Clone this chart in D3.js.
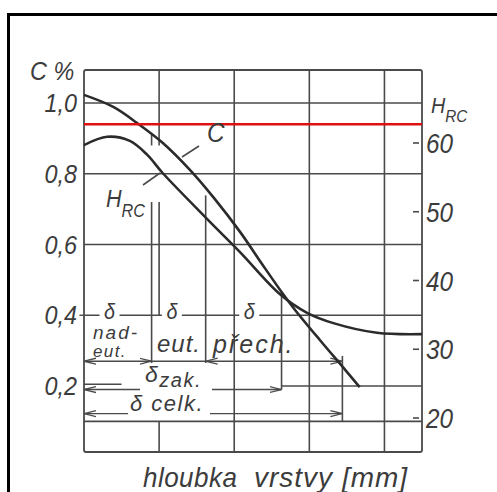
<!DOCTYPE html>
<head>
  <meta charset="utf-8" />
  <script src="https://cdn.jsdelivr.net/npm/d3@7/dist/d3.min.js"></script>
  <style>
    body { margin: 0; background: #fff; }
    text {
      font-family: "Liberation Sans", Arimo, "DejaVu Sans", sans-serif;
      font-style: italic;
      fill: #3c3c3c;
    }
  </style>
</head>
<body>
  <svg class="chart" width="497" height="492"></svg>
  <script>
    // carbon profile (depth in grid units, C %)
    const cDepth = [0, 0.39, 0.71, 1.05, 1.41, 1.74, 2.08, 2.37, 2.64, 2.81, 3.14, 3.48, 3.67];
    const cValues = [1.023, 0.989, 0.943, 0.887, 0.811, 0.729, 0.635, 0.545, 0.463, 0.415, 0.33, 0.245, 0.197];
    // hardness profile (HRC)
    const hrcDepth = [0, 0.31, 0.61, 0.84, 1.05, 1.68, 2.08, 2.61, 2.97, 3.32, 3.9, 4.5];
    const hrcValues = [59.7, 60.9, 60.3, 58.3, 55.6, 48.5, 44.1, 38.0, 35.3, 33.8, 32.4, 32.2];

    const cTicks = [1.0, 0.8, 0.6, 0.4, 0.2];
    const hrcTicks = [60, 50, 40, 30, 20];
    const gridDepth = [1, 2, 3, 4];
    const redLevel = 0.94;

    // layer boundaries (depth)
    const zoneNames = ["nad-eut.", "eut.", "přech."];
    const zoneEdges = [0, 0.9, 1.62, 3.44];
    const hardDepth = 2.63; // δ zak.

    const svg = d3.select(".chart");
    const x = d3.scaleLinear().domain([0, 4.5]).range([84, 422]);
    const yC = d3.scaleLinear().domain([0.2, 1.0]).range([386, 103]);
    const yH = d3.scaleLinear().domain([20, 60]).range([418, 143]);
    const cTop = yC.invert(70), cBottom = yC.invert(452);

    const ink = "#4a4a4a";
    const seg = (x1, c1, x2, c2, w) =>
      svg.append("line")
        .attr("x1", x(x1)).attr("y1", yC(c1)).attr("x2", x(x2)).attr("y2", yC(c2))
        .attr("stroke", ink).attr("stroke-width", w || 1.6);
    const label = (px, py, str, size, anchor, sx, ls) =>
      svg.append("text")
        .attr("transform", `translate(${px},${py}) scale(${sx || 0.9},1)`)
        .attr("font-size", size).attr("letter-spacing", ls || 0)
        .attr("text-anchor", anchor || "start").text(str);

    // outer frame of the scan
    svg.append("path").attr("d", "M8.5,492 V14.5 H497").attr("fill", "none").attr("stroke", "#000").attr("stroke-width", 3);

    // arrowheads
    svg.append("defs").append("marker").attr("id", "arr").attr("viewBox", "0 -5 12 10").attr("refX", 12).attr("refY", 0)
      .attr("markerWidth", 12).attr("markerHeight", 10).attr("markerUnits", "userSpaceOnUse").attr("orient", "auto-start-reverse")
      .append("path").attr("d", "M0,-3 L12,0 L0,3").attr("fill", "none").attr("stroke", ink).attr("stroke-width", 1.3);

    // plot frame
    svg.append("rect").attr("x", x(0)).attr("y", yC(cTop)).attr("width", x(4.5) - x(0)).attr("height", yC(cBottom) - yC(cTop))
      .attr("fill", "none").attr("stroke", ink).attr("stroke-width", 1.8).attr("rx", 2);

    // horizontal grid
    [1.0, 0.8, 0.6, 0.4, 0.1].forEach((c) => seg(0, c, 4.5, c));
    seg(0, 0.205, 0.5, 0.205);
    seg(hardDepth, 0.2, 4.5, 0.2);

    // vertical grid
    gridDepth.forEach((d) => {
      if (d === 1) {
        seg(d, cTop, d, 0.88);
        seg(d, 0.72, d, 0.4);
        seg(d, 0.1, d, cBottom);
      } else {
        seg(d, cTop, d, cBottom);
      }
    });

    // zone boundaries
    const cAt = d3.scaleLinear().domain(cDepth).range(cValues);
    seg(zoneEdges[1], cAt(zoneEdges[1]), zoneEdges[1], 0.88);
    seg(zoneEdges[1], 0.72, zoneEdges[1], 0.265);
    seg(zoneEdges[2], cAt(zoneEdges[2]) - 0.02, zoneEdges[2], 0.265);
    seg(hardDepth, cAt(hardDepth), hardDepth, 0.19);
    seg(zoneEdges[3], 0.285, zoneEdges[3], 0.1);

    // dimension lines
    const dim = (x1, x2, c) => seg(x1, c, x2, c, 1.4).attr("marker-start", "url(#arr)").attr("marker-end", "url(#arr)");
    dim(zoneEdges[0], zoneEdges[1], 0.27);
    seg(zoneEdges[1], 0.27, zoneEdges[2], 0.27, 1.4);
    dim(zoneEdges[2], zoneEdges[3], 0.27);
    dim(0, hardDepth, 0.19);
    dim(0, zoneEdges[3], 0.122);

    // curves
    const line = d3.line().curve(d3.curveCatmullRom.alpha(0.5));
    svg.append("path")
      .attr("d", line(cDepth.map((d, i) => [x(d), yC(cValues[i])])))
      .attr("fill", "none").attr("stroke", "#2b2b2b").attr("stroke-width", 2.6);
    svg.append("path")
      .attr("d", line(hrcDepth.map((d, i) => [x(d), yH(hrcValues[i])])))
      .attr("fill", "none").attr("stroke", "#2b2b2b").attr("stroke-width", 2.6);

    // leaders
    svg.append("line").attr("x1", 182).attr("y1", 157).attr("x2", 199).attr("y2", 146).attr("stroke", ink).attr("stroke-width", 1.6);
    svg.append("line").attr("x1", 143).attr("y1", 185).attr("x2", 160).attr("y2", 173).attr("stroke", ink).attr("stroke-width", 1.6);

    // red limit
    svg.append("line").attr("x1", x(0)).attr("x2", x(4.5)).attr("y1", yC(redLevel)).attr("y2", yC(redLevel))
      .attr("stroke", "#e01010").attr("stroke-width", 2.4);

    // left axis labels
    cTicks.forEach((c) => label(77, yC(c) + 9, c.toFixed(1).replace(".", ","), 26, "end"));
    seg(-0.06, 0.4, 0, 0.4, 1.4);
    label(30, 80, "C %", 26);

    // right axis
    svg.selectAll(".ht").data(hrcTicks).join("line").attr("class", "ht")
      .attr("x1", 413).attr("x2", 419).attr("y1", (d) => yH(d)).attr("y2", (d) => yH(d))
      .attr("stroke", ink).attr("stroke-width", 1.6);
    hrcTicks.forEach((h) => label(426, yH(h) + 10, h, 27));
    const hTitle = label(431, 113, "", 22);
    hTitle.append("tspan").text("H");
    hTitle.append("tspan").attr("dy", 9).attr("font-size", 17).text("RC");

    // curve labels
    label(207, 142, "C", 27);
    const hLab = label(106, 207, "", 24);
    hLab.append("tspan").text("H");
    hLab.append("tspan").attr("dy", 10).attr("font-size", 18).text("RC");

    // δ labels on the 0.4 line
    const deltaX = [0.34, 1.17, 2.2];
    svg.selectAll(".dbg").data(deltaX).join("rect").attr("class", "dbg")
      .attr("x", (d) => x(d) - 10).attr("y", yC(0.4) - 3).attr("width", 20).attr("height", 6).attr("fill", "#fff");
    deltaX.forEach((d) => label(x(d), yC(0.4) + 4, "δ", 22, "middle"));

    label(93, 339, "nad-", 19, "start", 1, 2);
    label(93, 357, "eut.", 17, "start", 1, 1.4);
    label(157, 352, zoneNames[1], 24, "start", 1, 1);
    label(213, 353, zoneNames[2], 25, "start", 1, 2);

    svg.append("rect").attr("x", 140).attr("y", 383).attr("width", 72).attr("height", 12).attr("fill", "#fff");
    const zak = label(145, 382, "", 23, "start", 1, 1.5);
    zak.append("tspan").text("δ");
    zak.append("tspan").attr("dy", 5).attr("font-size", 20).text("zak.");
    svg.append("rect").attr("x", 128).attr("y", 408).attr("width", 82).attr("height", 10).attr("fill", "#fff");
    label(130, 411, "δ celk.", 22, "start", 1, 1.5);

    // x axis title
    label(143, 487, "hloubka", 28, "start", 0.93, 0.5);
    label(254, 487, "vrstvy [mm]", 28, "start", 1, 1);
  </script>
</body>
